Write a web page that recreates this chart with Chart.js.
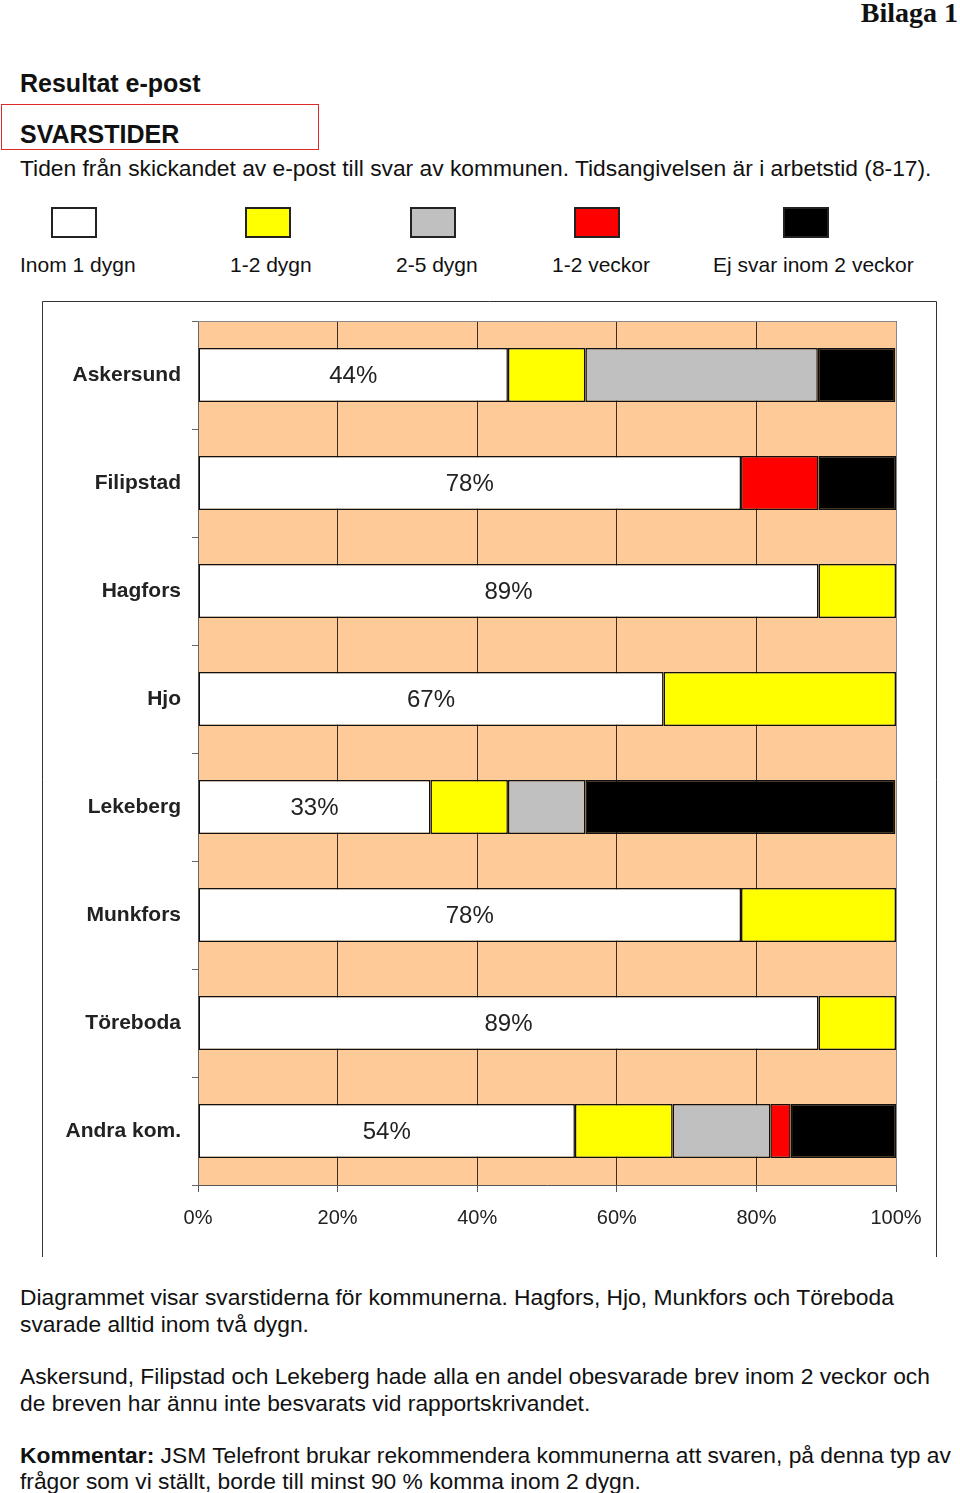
<!DOCTYPE html>
<html>
<head>
<meta charset="utf-8">
<script src="https://cdn.jsdelivr.net/npm/chart.js@4"></script>
<style>
  body { margin: 0; background: #fff; font-family: "Liberation Sans", Arial, sans-serif; color: #111; }
  #page { position: relative; width: 960px; height: 1493px; overflow: hidden; }
  .t { position: absolute; white-space: nowrap; line-height: 27px; font-size: 22.8px; }
  .lg { position: absolute; white-space: nowrap; line-height: 26px; font-size: 21px; top: 252px; }
  .b { font-weight: bold; }
  .box { position: absolute; width: 42px; height: 27px; border: 2px solid #222; top: 207px; }
  #chartWrap { position: absolute; left: 42px; top: 301px; }
</style>
</head>
<body>
<div id="page">
  <div class="t b" style="right:2px; top:-2px; font-family:'Liberation Serif', serif; font-size:28px; line-height:30px;">Bilaga 1</div>
  <div class="t b" style="left:20px; top:69px; font-size:25px; line-height:28px;">Resultat e-post</div>
  <div style="position:absolute; left:1px; top:104px; width:316px; height:44px; border:1.5px solid #dd2a2a;"></div>
  <div class="t b" style="left:20px; top:120px; font-size:25px; line-height:28px;">SVARSTIDER</div>
  <div class="t" style="left:20px; top:155px;">Tiden från skickandet av e-post till svar av kommunen. Tidsangivelsen är i arbetstid (8-17).</div>

  <div id="legend"></div>

  <div id="chartWrap"><canvas id="chart" width="895" height="956"></canvas></div>

  <div class="t" style="left:20px; top:1284px;">Diagrammet visar svarstiderna för kommunerna. Hagfors, Hjo, Munkfors och Töreboda</div>
  <div class="t" style="left:20px; top:1311px;">svarade alltid inom två dygn.</div>
  <div class="t" style="left:20px; top:1363px;">Askersund, Filipstad och Lekeberg hade alla en andel obesvarade brev inom 2 veckor och</div>
  <div class="t" style="left:20px; top:1390px;">de breven har ännu inte besvarats vid rapportskrivandet.</div>
  <div class="t" style="left:20px; top:1442px;"><b>Kommentar:</b> JSM Telefront brukar rekommendera kommunerna att svaren, på denna typ av</div>
  <div class="t" style="left:20px; top:1468px;">frågor som vi ställt, borde till minst 90 % komma inom 2 dygn.</div>
</div>

<script>
// data
const categories = ["Askersund", "Filipstad", "Hagfors", "Hjo", "Lekeberg", "Munkfors", "Töreboda", "Andra kom."];
const seriesNames = ["Inom 1 dygn", "1-2 dygn", "2-5 dygn", "1-2 veckor", "Ej svar inom 2 veckor"];
const inom1Dygn   = [44.4, 77.8, 88.9, 66.7, 33.3, 77.8, 88.9, 54.0];
const dygn12      = [11.1, 0,    11.1, 33.3, 11.1, 22.2, 11.1, 14.0];
const dygn25      = [33.3, 0,    0,    0,    11.1, 0,    0,    14.0];
const veckor12    = [0,    11.1, 0,    0,    0,    0,    0,    2.9];
const ejSvar      = [11.1, 11.1, 0,    0,    44.4, 0,    0,    15.1];
const xTicks = [0, 20, 40, 60, 80, 100];

const colors = ["#ffffff", "#ffff00", "#c0c0c0", "#ff0000", "#000000"];
const seriesData = [inom1Dygn, dygn12, dygn25, veckor12, ejSvar];

// **HTML legend above the chart box**
const legendBoxX = [51, 245, 410, 574, 783];
const legendTextX = [20, 230, 396, 552, 713];
const legend = document.getElementById("legend");
seriesNames.forEach((name, i) => {
    let box = document.createElement("div");
    box.className = "box";
    box.style.left = legendBoxX[i] + "px";
    box.style.background = colors[i];
    legend.appendChild(box);
    let label = document.createElement("div");
    label.className = "lg";
    label.style.left = legendTextX[i] + "px";
    label.textContent = name;
    legend.appendChild(label);
});

// **Plugins: peach plot area, frame, labels in white bars**
const plotBackground = {
    id: "plotBackground",
    beforeDraw(chart) {
        const { ctx, chartArea: a } = chart;
        ctx.save();
        ctx.fillStyle = "#fdca98";
        ctx.fillRect(a.left, a.top, a.right - a.left, a.bottom - a.top);
        ctx.restore();
    },
    afterDatasetsDraw(chart) {
        const { ctx, chartArea: a } = chart;
        ctx.save();
        ctx.strokeStyle = "#888";
        ctx.lineWidth = 1;
        ctx.beginPath();
        ctx.moveTo(a.left, a.top + 0.5);
        ctx.lineTo(a.right + 0.5, a.top + 0.5);
        ctx.lineTo(a.right + 0.5, a.bottom);
        ctx.stroke();
        // outer frame (no bottom edge)
        ctx.strokeStyle = "#333";
        ctx.beginPath();
        ctx.moveTo(0.5, chart.height);
        ctx.lineTo(0.5, 0.5);
        ctx.lineTo(chart.width - 0.5, 0.5);
        ctx.lineTo(chart.width - 0.5, chart.height);
        ctx.stroke();
        // percentage label inside first segment
        const meta = chart.getDatasetMeta(0);
        ctx.fillStyle = "#222";
        ctx.font = "24px 'Liberation Sans', Arial, sans-serif";
        ctx.textAlign = "center";
        ctx.textBaseline = "middle";
        meta.data.forEach((bar, i) => {
            ctx.fillText(Math.round(inom1Dygn[i]) + "%", (bar.base + bar.x) / 2, bar.y + 1);
        });
        ctx.restore();
    }
};

const ctx = document.getElementById("chart").getContext("2d");
new Chart(ctx, {
    type: "bar",
    data: {
        labels: categories,
        datasets: seriesNames.map((name, i) => ({
            label: name,
            data: seriesData[i],
            backgroundColor: colors[i],
            borderColor: "#111",
            borderWidth: 1.5,
            borderSkipped: false,
            categoryPercentage: 1,
            barPercentage: 0.5
        }))
    },
    options: {
        indexAxis: "y",
        responsive: false,
        animation: false,
        devicePixelRatio: 1,
        layout: { padding: { top: 20, right: 41, left: 0, bottom: 0 } },
        plugins: { legend: { display: false }, tooltip: { enabled: false } },
        scales: {
            x: {
                stacked: true,
                min: 0,
                max: 100,
                afterBuildTicks: (scale) => { scale.ticks = xTicks.map(v => ({ value: v })); },
                afterFit: (scale) => { scale.height = 72; },
                ticks: {
                    callback: (v) => v + "%",
                    color: "#222",
                    font: { family: "'Liberation Sans', Arial, sans-serif", size: 20 },
                    padding: 14,
                    maxRotation: 0
                },
                grid: { color: "#3a2e22", lineWidth: 1, tickLength: 7, tickColor: "#555" },
                border: { display: true, color: "#555", width: 1 }
            },
            y: {
                stacked: true,
                afterFit: (scale) => {
                    scale.width = 156;
                    scale.paddingTop = 0;
                    scale.paddingBottom = 0;
                },
                ticks: {
                    color: "#222",
                    font: { family: "'Liberation Sans', Arial, sans-serif", size: 21, weight: "bold" },
                    padding: 11
                },
                grid: { offset: true, drawOnChartArea: false, tickLength: 6, color: "#666" },
                border: { display: true, color: "#666", width: 1 }
            }
        }
    },
    plugins: [plotBackground]
});
</script>
</body>
</html>
